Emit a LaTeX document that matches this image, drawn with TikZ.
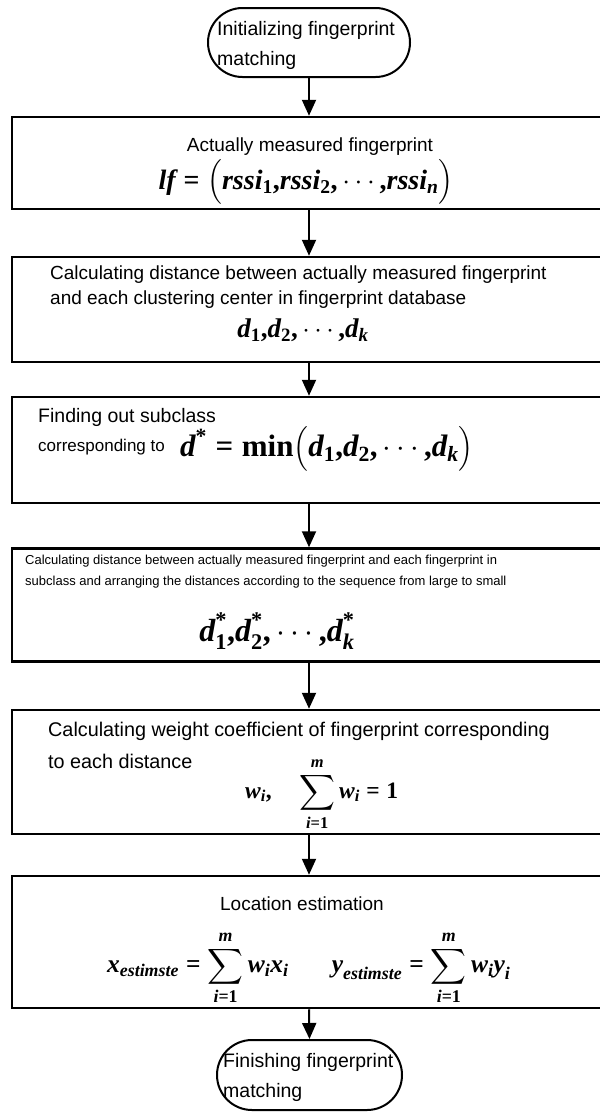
\RequirePackage{fix-cm}
\documentclass[tikz,border=0pt]{standalone}
\usepackage{amsmath}
\usepackage{fontspec}
\setmainfont{Liberation Sans}
\newfontfamily\tnr{Liberation Serif}
\usetikzlibrary{arrows.meta,shapes.misc}
\newcommand\bv[1]{\text{\tnr\bfseries\itshape #1}}
\newcommand\bn[1]{\text{\tnr\bfseries #1}}
\newcommand\fs[1]{\fontsize{#1}{#1}\selectfont}
\tikzset{
  box/.style={draw, line width=2.5pt, rectangle, inner sep=0pt, minimum width=590pt},
  term/.style={draw, line width=2pt, rounded rectangle, inner sep=0pt},
  txt/.style={inner sep=0pt, anchor=west},
  ctxt/.style={inner sep=0pt},
  flow/.style={line width=2pt, -{Triangle[length=16pt,width=14pt]}},
}
\begin{document}
\begin{tikzpicture}[x=1pt,y=-1pt]
\useasboundingbox (0,0) rectangle (600,1112);
\clip (0,0) rectangle (600,1112);
\fill[white] (0,0) rectangle (600,1112);
% terminals
\node[term, minimum width=202pt, minimum height=69pt] (st) at (309,42.5) {};
\node[txt] (st1) at (217,30) {\fs{19.5}Initializing fingerprint};
\node[txt] (st2) at (217,60) {\fs{19.5}matching};
\node[term, minimum width=185pt, minimum height=70pt] (en) at (309.5,1075) {};
\node[txt] (en1) at (223,1062) {\fs{19.5}Finishing fingerprint};
\node[txt] (en2) at (223,1092) {\fs{19.5}matching};
% box 1
\node[box, minimum height=92pt] (b1) at (307,163) {};
\node[ctxt] (b1t) at (310,147) {\fs{19}Actually measured fingerprint};
\node[ctxt] (b1f) at (306,182) {\fs{28}$\bv{lf}\mathrel{\bn{=}}\bigl(\bv{rssi}_{\bn{1}}\bn{,}\bv{rssi}_{\bn{2}}\bn{,}\cdots\bn{,}\bv{rssi}_{\bv{n}}\bigr)$};
% box 2
\node[box, minimum height=105pt] (b2) at (307,309.5) {};
\node[txt] (b2a) at (50,275) {\fs{19}Calculating distance between actually measured fingerprint};
\node[txt] (b2b) at (50,300) {\fs{19}and each clustering center in fingerprint database};
\node[ctxt] (b2f) at (303,330) {\fs{27}$\bv{d}_{\bn{1}}\bn{,}\bv{d}_{\bn{2}}\bn{,}\cdots\bn{,}\bv{d}_{\bv{k}}$};
% box 3
\node[box, minimum height=106pt] (b3) at (307,450) {};
\node[txt] (b3a) at (38,417) {\fs{19.5}Finding out subclass};
\node[txt] (b3b) at (38,447) {\fs{17}corresponding to};
\node[txt] (b3f) at (180,449) {\fs{31}$\bv{d}^{\bn{*}}\mathrel{\bn{=}}\bn{min}\bigl(\bv{d}_{\bn{1}}\bn{,}\bv{d}_{\bn{2}}\bn{,}\cdots\bn{,}\bv{d}_{\bv{k}}\bigr)$};
% box 4
\node[box, minimum height=113pt] (b4) at (307,605) {};
\node[txt] (b4a) at (25,561) {\fs{13}Calculating distance between actually measured fingerprint and each fingerprint in};
\node[txt] (b4b) at (25,582) {\fs{13}subclass and arranging the distances according to the sequence from large to small};
\node[ctxt] (b4f) at (277,631) {\fs{32}$\bv{d}^{\bn{*}}_{\bn{1}}\bn{,}\bv{d}^{\bn{*}}_{\bn{2}}\bn{,}\cdots\bn{,}\bv{d}^{\bn{*}}_{\bv{k}}$};
% box 5
\node[box, minimum height=124pt] (b5) at (307,772) {};
\node[txt] (b5a) at (48,731) {\fs{19.8}Calculating weight coefficient of fingerprint corresponding};
\node[txt] (b5b) at (48,761) {\fs{19.8}to each distance};
\node[txt] (b5f) at (245,794) {\fs{23.5}$\bv{w}_{\bv{i}}\bn{,}\quad\displaystyle\sum_{\bv{i}\bn{=1}}^{\bv{m}}\bv{w}_{\bv{i}}\mathrel{\bn{=}}\bn{1}$};
% box 6
\node[box, minimum height=132pt] (b6) at (307,942) {};
\node[ctxt] (b6t) at (302,904) {\fs{19}Location estimation};
\node[txt] (b6f) at (107,968) {\fs{25.5}$\bv{x}_{\bv{estimste}}\mathrel{\bn{=}}\displaystyle\sum_{\bv{i}\bn{=1}}^{\bv{m}}\bv{w}_{\bv{i}}\bv{x}_{\bv{i}}\hspace{1.7em}\bv{y}_{\bv{estimste}}\mathrel{\bn{=}}\displaystyle\sum_{\bv{i}\bn{=1}}^{\bv{m}}\bv{w}_{\bv{i}}\bv{y}_{\bv{i}}$};
% connectors
\draw[flow] (st.south) -- (st.south |- b1.north);
\draw[flow] (b1.south -| st.south) -- (b2.north -| st.south);
\draw[flow] (b2.south -| st.south) -- (b3.north -| st.south);
\draw[flow] (b3.south -| st.south) -- (b4.north -| st.south);
\draw[flow] (b4.south -| st.south) -- (b5.north -| st.south);
\draw[flow] (b5.south -| st.south) -- (b6.north -| st.south);
\draw[flow] (b6.south -| st.south) -- (en.north);
\end{tikzpicture}
\end{document}
